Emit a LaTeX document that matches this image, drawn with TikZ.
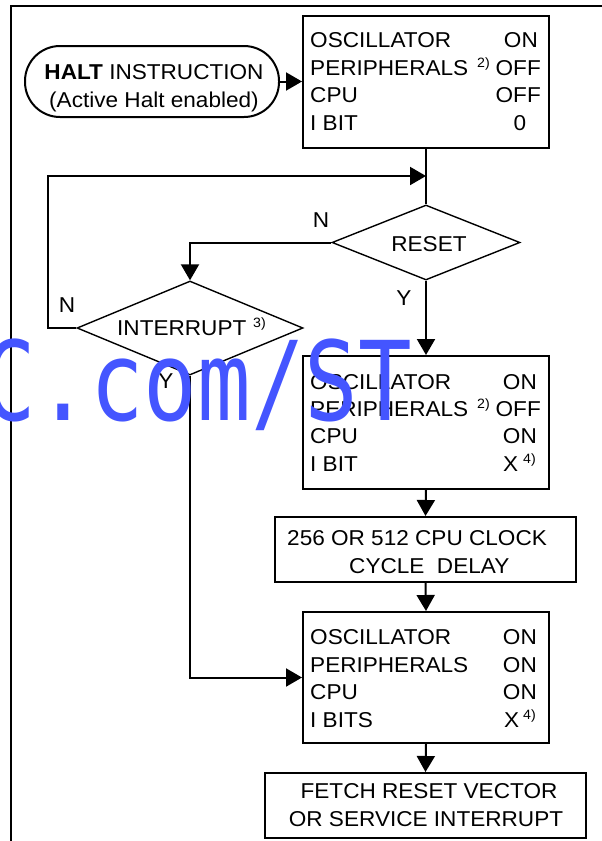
\documentclass[tikz,border=0pt]{standalone}
\usepackage{fontspec}
\setmainfont{Liberation Sans}[FakeStretch=1.05]
\newfontfamily\wmfont{DejaVu Sans Mono}
\usetikzlibrary{shapes.geometric,arrows.meta}
\definecolor{wmblue}{RGB}{68,85,255}
\tikzset{
  box/.style={draw, line width=2pt, rectangle, inner sep=0pt},
  dia/.style={draw, diamond, line width=1.4pt, inner sep=0pt},
  conn/.style={line width=2pt},
  arr/.style={conn, -{Triangle[length=16pt,width=18pt]}},
  txt/.style={inner sep=0pt, font=\fontsize{21.5}{25}\selectfont},
  sup/.style={inner sep=0pt, font=\fontsize{13.5}{15}\selectfont},
}
\begin{document}
\begin{tikzpicture}[x=1pt,y=-1pt]
\useasboundingbox (0,0) rectangle (602,841);
\clip (0,0) rectangle (602,841);
% frame
\draw[line width=2pt] (602,6) -- (11,6) -- (11,841);
% shapes
\node[box, rounded corners=35pt, minimum width=254pt, minimum height=71pt] (halt) at (152,81.5) {};
\node[box, minimum width=246pt, minimum height=132pt] (b1) at (426,82) {};
\node[dia, minimum width=188pt, minimum height=75pt] (reset) at (426,242.5) {};
\node[dia, minimum width=226pt, minimum height=94pt] (intr) at (190,328) {};
\node[box, minimum width=246pt, minimum height=133pt] (b2) at (426,422.5) {};
\node[box, minimum width=301pt, minimum height=65pt] (delay) at (425.5,549.5) {};
\node[box, minimum width=246pt, minimum height=131pt] (b3) at (426,677.5) {};
\node[box, minimum width=321pt, minimum height=65pt] (fetch) at (425.5,805.5) {};
\coordinate (j1) at (426,176);
\coordinate (lp) at (48,176);
% connectors
\draw[arr] (halt.east) -- (halt.east -| b1.west);
\draw[conn] (b1.south) -- (reset.north);
\draw[arr] (intr.west) -| (lp) -- (j1);
\draw[arr] (reset.west) -| (intr.north);
\draw[arr] (reset.south) -- (b2.north);
\draw[arr] (b2.south) -- (delay.north);
\draw[arr] (delay.south) -- (b3.north);
\draw[arr] (intr.south) |- (b3.west);
\draw[arr] (b3.south) -- (fetch.north);
% texts
\node[txt, anchor=base] (h1) at (154,79) {\textbf{HALT} INSTRUCTION};
\node[txt, anchor=base] (h2) at (154,107) {(Active Halt enabled)};
% box1
\node[txt, anchor=base west] (a1) at (310,47) {OSCILLATOR};
\node[txt, anchor=base east] (a1v) at (538,47) {ON};
\node[txt, anchor=base west] (a2) at (310,75) {PERIPHERALS};
\node[sup, anchor=base west] (a2s) at (477,67) {2)};
\node[txt, anchor=base east] (a2v) at (541,75) {OFF};
\node[txt, anchor=base west] (a3) at (310,102) {CPU};
\node[txt, anchor=base east] (a3v) at (541,102) {OFF};
\node[txt, anchor=base west] (a4) at (310,130) {I BIT};
\node[txt, anchor=base] (a4v) at (520,130) {0};
% diamonds
\node[txt, anchor=base] (rt) at (429,251) {RESET};
\node[txt, anchor=base west] (it) at (117,335) {INTERRUPT};
\node[sup, anchor=base west] (its) at (253,327) {3)};
\node[txt, anchor=base] (n1) at (321,227) {N};
\node[txt, anchor=base] (n2) at (67,312) {N};
\node[txt, anchor=base] (y1) at (404,305) {Y};
\node[txt, anchor=base] (y2) at (166,388) {Y};
% box2
\node[txt, anchor=base west] (c1) at (310,389) {OSCILLATOR};
\node[txt, anchor=base east] (c1v) at (537,389) {ON};
\node[txt, anchor=base west] (c2) at (310,416) {PERIPHERALS};
\node[sup, anchor=base west] (c2s) at (477,408) {2)};
\node[txt, anchor=base east] (c2v) at (541,416) {OFF};
\node[txt, anchor=base west] (c3) at (310,443) {CPU};
\node[txt, anchor=base east] (c3v) at (537,443) {ON};
\node[txt, anchor=base west] (c4) at (310,471) {I BIT};
\node[txt, anchor=base west] (c4v) at (503,471) {X};
\node[sup, anchor=base west] (c4s) at (523,463) {4)};
% delay
\node[txt, anchor=base west] (d1) at (287,545) {256 OR 512 CPU CLOCK};
\node[txt, anchor=base west] (d2) at (349,573) {CYCLE\ \ DELAY};
% box3
\node[txt, anchor=base west] (e1) at (310,644) {OSCILLATOR};
\node[txt, anchor=base east] (e1v) at (537,644) {ON};
\node[txt, anchor=base west] (e2) at (310,672) {PERIPHERALS};
\node[txt, anchor=base east] (e2v) at (537,672) {ON};
\node[txt, anchor=base west] (e3) at (310,699) {CPU};
\node[txt, anchor=base east] (e3v) at (537,699) {ON};
\node[txt, anchor=base west] (e4) at (310,727) {I BITS};
\node[txt, anchor=base west] (e4v) at (504,727) {X};
\node[sup, anchor=base west] (e4s) at (523,719) {4)};
% fetch
\node[txt, anchor=base] (f1) at (429,798) {FETCH RESET VECTOR};
\node[txt, anchor=base] (f2) at (426,826) {OR SERVICE INTERRUPT};
% watermark
\node[inner sep=0pt, anchor=base west, text=wmblue, font=\wmfont\fontsize{110}{110}\selectfont] (wm) at (-17.25,420) {\scalebox{0.81}[1]{C.com/ST}};
\end{tikzpicture}
\end{document}
